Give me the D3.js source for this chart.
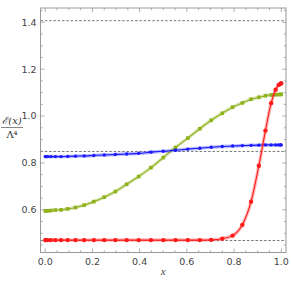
<!DOCTYPE html>
<html>
<head>
<meta charset="utf-8">
<script src="https://cdn.jsdelivr.net/npm/d3@7"></script>
<style>
  html, body { margin: 0; padding: 0; background: #fff; }
  svg { display: block; }
  .tick-label { font-family: "DejaVu Sans", sans-serif; font-size: 9.5px; fill: #444; }
</style>
</head>
<body>
<script>
// sample points
const xs = [0, 0.003, 0.011, 0.024, 0.043, 0.067, 0.095, 0.128, 0.165, 0.206, 0.25,
    0.297, 0.345, 0.396, 0.448, 0.5, 0.552, 0.604, 0.655, 0.703, 0.75,
    0.794, 0.835, 0.872, 0.905, 0.933, 0.957, 0.976, 0.989, 0.997, 1];

const blueValues = [0.827, 0.827, 0.827, 0.827, 0.827, 0.827, 0.828, 0.829, 0.830, 0.832, 0.834,
    0.836, 0.838, 0.841, 0.846, 0.850, 0.854, 0.859, 0.863, 0.867, 0.870,
    0.872, 0.874, 0.875, 0.876, 0.877, 0.877, 0.877, 0.877, 0.877, 0.877];

const greenValues = [0.596, 0.596, 0.596, 0.597, 0.599, 0.600, 0.604, 0.610, 0.620, 0.635, 0.654,
    0.678, 0.709, 0.742, 0.780, 0.823, 0.866, 0.906, 0.946, 0.982, 1.012,
    1.038, 1.056, 1.072, 1.080, 1.087, 1.090, 1.091, 1.092, 1.092, 1.093];

const redValues = [0.471, 0.471, 0.471, 0.471, 0.471, 0.471, 0.471, 0.471, 0.471, 0.471, 0.471,
    0.471, 0.471, 0.471, 0.471, 0.471, 0.471, 0.471, 0.471, 0.472, 0.477,
    0.490, 0.536, 0.635, 0.788, 0.938, 1.055, 1.112, 1.133, 1.138, 1.140];

const dashedLevels = [1.407, 0.849, 0.469];

const xTicks = [0, 0.2, 0.4, 0.6, 0.8, 1.0];
const yTicks = [0.6, 0.8, 1.0, 1.2, 1.4];

const width = 291, height = 282;
const margin = { top: 8, left: 40.5, bottom: 29.5, right: 5 };

const svg = d3.select('body')
    .append('svg')
    .attr('width', width)
    .attr('height', height);

const scaleX = d3.scaleLinear().domain([-0.02, 1.02]).range([margin.left, width - margin.right]);
const scaleY = d3.scaleLinear().domain([0.418, 1.461]).range([height - margin.bottom, margin.top]);

const x0 = scaleX.range()[0], x1 = scaleX.range()[1];
const y0 = scaleY.range()[0], y1 = scaleY.range()[1];

// dashed reference levels
svg.append('g')
    .selectAll('line')
    .data(dashedLevels)
    .enter()
    .append('line')
    .attr('x1', x0).attr('x2', x1)
    .attr('y1', (d) => scaleY(d)).attr('y2', (d) => scaleY(d))
    .attr('stroke', '#555')
    .attr('stroke-width', 0.8)
    .attr('stroke-dasharray', '2.5,1.8');

const series = [
    { values: greenValues, color: '#8fb31d', shape: 'square' },
    { values: blueValues, color: '#1a1aff', shape: 'circle', r: 1.7 },
    { values: redValues, color: '#ff1a1a', shape: 'circle', r: 2.2 }
];

const line = d3.line()
    .x((d) => scaleX(d[0]))
    .y((d) => scaleY(d[1]))
    .curve(d3.curveMonotoneX);

const plot = svg.append('g');

series.forEach((s) => {
    const pts = xs.map((x, i) => [x, s.values[i]]);

    plot.append('path')
        .attr('d', line(pts))
        .attr('fill', 'none')
        .attr('stroke', s.color)
        .attr('stroke-opacity', 0.3)
        .attr('stroke-width', 3.5);

    plot.append('path')
        .attr('d', line(pts))
        .attr('fill', 'none')
        .attr('stroke', s.color)
        .attr('stroke-width', 1.1);

    if (s.shape === 'square') {
        plot.append('g')
            .selectAll('rect')
            .data(pts)
            .enter()
            .append('rect')
            .attr('x', (d) => scaleX(d[0]) - 1.8)
            .attr('y', (d) => scaleY(d[1]) - 1.8)
            .attr('width', 3.6)
            .attr('height', 3.6)
            .attr('fill', s.color);
    } else {
        plot.append('g')
            .selectAll('circle')
            .data(pts)
            .enter()
            .append('circle')
            .attr('cx', (d) => scaleX(d[0]))
            .attr('cy', (d) => scaleY(d[1]))
            .attr('r', s.r)
            .attr('fill', s.color);
    }
});

// frame
const frameColor = '#999';
svg.append('rect')
    .attr('x', x0).attr('y', y1)
    .attr('width', x1 - x0).attr('height', y0 - y1)
    .attr('fill', 'none')
    .attr('stroke', frameColor)
    .attr('stroke-width', 1);

// ticks on all four sides
const ticks = svg.append('g').attr('stroke', frameColor).attr('stroke-width', 0.8);
const xMinor = d3.range(0, 1.0001, 0.05);
const yMinor = d3.range(0.45, 1.4501, 0.05);

xMinor.forEach((v) => {
    const major = xTicks.some((t) => Math.abs(t - v) < 1e-6);
    const len = major ? 4 : 2.2;
    const px = scaleX(v);
    ticks.append('line').attr('x1', px).attr('x2', px).attr('y1', y0).attr('y2', y0 - len);
    ticks.append('line').attr('x1', px).attr('x2', px).attr('y1', y1).attr('y2', y1 + len);
});
yMinor.forEach((v) => {
    const major = yTicks.some((t) => Math.abs(t - v) < 1e-6);
    const len = major ? 4 : 2.2;
    const py = scaleY(v);
    ticks.append('line').attr('y1', py).attr('y2', py).attr('x1', x0).attr('x2', x0 + len);
    ticks.append('line').attr('y1', py).attr('y2', py).attr('x1', x1).attr('x2', x1 - len);
});

// tick labels
svg.append('g')
    .selectAll('text')
    .data(xTicks)
    .enter()
    .append('text')
    .attr('class', 'tick-label')
    .attr('x', (d) => scaleX(d))
    .attr('y', y0 + 12)
    .attr('text-anchor', 'middle')
    .text((d) => d.toFixed(1));

svg.append('g')
    .selectAll('text')
    .data(yTicks)
    .enter()
    .append('text')
    .attr('class', 'tick-label')
    .attr('x', x0 - 4)
    .attr('y', (d) => scaleY(d) + 3.4)
    .attr('text-anchor', 'end')
    .text((d) => d.toFixed(1));

// axis labels
svg.append('text')
    .attr('x', (x0 + x1) / 2)
    .attr('y', 275)
    .attr('text-anchor', 'middle')
    .style('font-family', '"Liberation Serif", serif')
    .style('font-style', 'italic')
    .style('font-size', '11px')
    .attr('fill', '#444')
    .text('x');

const yl = svg.append('g')
    .attr('fill', '#333')
    .style('font-family', '"DejaVu Serif", serif')
    .style('font-size', '10px');
yl.append('text')
    .attr('x', 12).attr('y', 124)
    .attr('text-anchor', 'middle')
    .style('font-style', 'italic')
    .text('ℰ(x)');
yl.append('line')
    .attr('x1', 1).attr('x2', 23).attr('y1', 127.5).attr('y2', 127.5)
    .attr('stroke', '#333').attr('stroke-width', 0.6);
yl.append('text')
    .attr('x', 12).attr('y', 137.5)
    .attr('text-anchor', 'middle')
    .text('Λ⁴');
</script>
</body>
</html>
